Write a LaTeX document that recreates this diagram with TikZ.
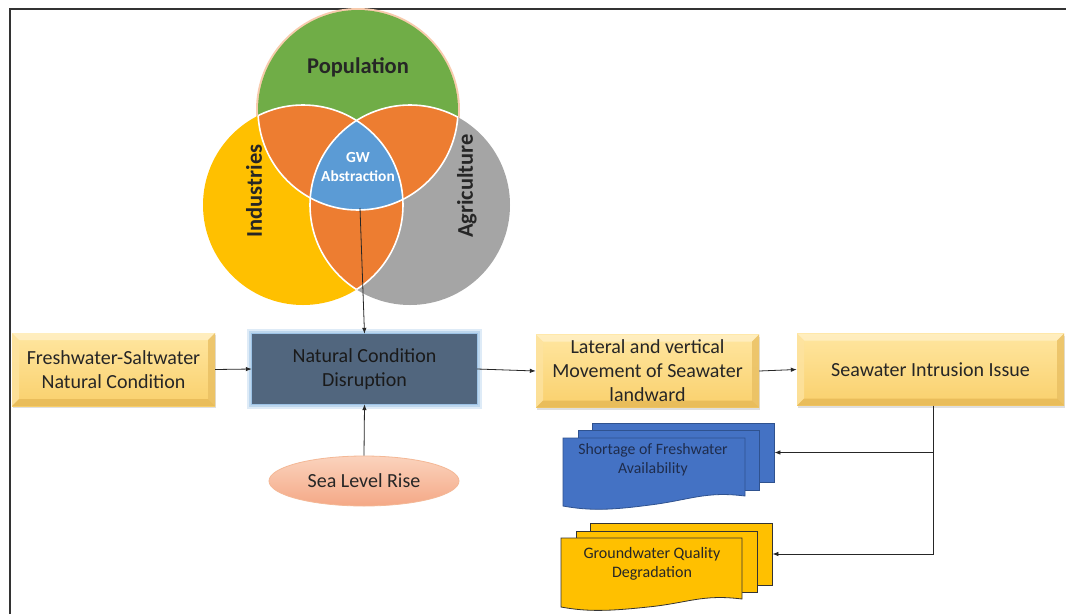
\documentclass[tikz,border=0pt]{standalone}
\usepackage{fontspec}
\setmainfont{Carlito}
\usetikzlibrary{arrows.meta,shadows,shapes.geometric}
\definecolor{popc}{HTML}{70AD47}
\definecolor{popglow}{HTML}{F8CBAD}
\definecolor{indc}{HTML}{FFC000}
\definecolor{agrc}{HTML}{A5A5A5}
\definecolor{ovlc}{HTML}{ED7D31}
\definecolor{gwc}{HTML}{5B9BD5}
\definecolor{txtc}{HTML}{262626}
\definecolor{ncdc}{HTML}{51667E}
\definecolor{ncdtxt}{HTML}{1A1A1A}
\definecolor{glowa}{HTML}{DEEBF7}
\definecolor{glowb}{HTML}{BDD7EE}
\definecolor{glowc}{HTML}{9DC3E6}
\definecolor{bluedoc}{HTML}{4472C4}
\definecolor{bluedocl}{HTML}{2F528F}
\definecolor{bluetxt}{HTML}{1F2D4D}
\definecolor{ydoc}{HTML}{FFC000}
\definecolor{bxtop}{HTML}{FFE6A0}
\definecolor{bxbot}{HTML}{F9D06C}
\definecolor{bvtop}{HTML}{FFF0C6}
\definecolor{bvleft}{HTML}{FDE3A0}
\definecolor{bvright}{HTML}{E9BF62}
\definecolor{bvbot}{HTML}{E5B856}
\definecolor{slrtop}{HTML}{FBD3BD}
\definecolor{slrbot}{HTML}{F4A886}
\definecolor{slrline}{HTML}{F4B896}
\tikzset{
  arr/.style={draw=black!85, line width=0.8pt, -{Latex[length=6pt,width=4.5pt]}},
  bevelbox/.style={rectangle, inner sep=2pt, align=center, text=txtc,
    font=\fontsize{20}{24}\selectfont,
    top color=bxtop, bottom color=bxbot,
    drop shadow={opacity=0.25, shadow xshift=1pt, shadow yshift=-2pt},
    path picture={
      \path (path picture bounding box.north west) coordinate (bNW)
            (path picture bounding box.north east) coordinate (bNE)
            (path picture bounding box.south east) coordinate (bSE)
            (path picture bounding box.south west) coordinate (bSW);
      \fill[bvtop, opacity=0.8] (bNW) -- (bNE) -- ([shift={(-7,7)}]bNE) -- ([shift={(7,7)}]bNW) -- cycle;
      \fill[bvleft, opacity=0.8] (bNW) -- ([shift={(7,7)}]bNW) -- ([shift={(7,-7)}]bSW) -- (bSW) -- cycle;
      \fill[bvright, opacity=0.8] (bNE) -- ([shift={(-7,7)}]bNE) -- ([shift={(-7,-7)}]bSE) -- (bSE) -- cycle;
      \fill[bvbot, opacity=0.8] (bSW) -- ([shift={(7,-7)}]bSW) -- ([shift={(-7,-7)}]bSE) -- (bSE) -- cycle;
    }},
  venntxt/.style={text=txtc, font=\fontsize{22.5}{24}\bfseries\selectfont},
  sheetb/.style={fill=bluedoc, draw=bluedocl, line width=0.8pt},
  sheety/.style={fill=ydoc, draw=black!80, line width=0.8pt},
  vline/.style={draw=white, line width=1.6pt},
}
\begin{document}
\begin{tikzpicture}[x=1pt,y=-1pt]
\useasboundingbox (0,0) rectangle (1066,614);
\fill[white] (0,0) rectangle (1066,614);
% frame
\draw[line width=2pt, black!80] (10,614) -- (10,9) -- (1066,9);

% Venn diagram
\coordinate (P) at (358,110);
\coordinate (I) at (303,205);
\coordinate (A) at (410,205);
\draw[popglow, line width=4pt] (P) circle (100);
\fill[indc] (I) circle (100);
\fill[agrc] (A) circle (100);
\fill[popc] (P) circle (100);
\begin{scope}
  \clip (P) circle (100);
  \fill[ovlc] (I) circle (100);
  \fill[ovlc] (A) circle (100);
\end{scope}
\begin{scope}
  \clip (I) circle (100);
  \fill[ovlc] (A) circle (100);
\end{scope}
\begin{scope}
  \clip (P) circle (100);
  \clip (I) circle (100);
  \fill[gwc] (A) circle (100);
\end{scope}
\begin{scope}
  \clip (I) circle (100) (A) circle (100);
  \draw[vline] (P) circle (100);
\end{scope}
\begin{scope}
  \clip (P) circle (100) (A) circle (100);
  \draw[vline] (I) circle (100);
\end{scope}
\begin{scope}
  \clip (P) circle (100) (I) circle (100);
  \draw[vline] (A) circle (100);
\end{scope}
\node[venntxt] (pop) at (358,67) {Population};
\node[venntxt, rotate=90] (ind) at (254,191) {Industries};
\node[venntxt, rotate=90] (agr) at (467,186) {Agriculture};
\node[text=white, align=center, font=\fontsize{15.4}{19}\bfseries\selectfont] (gw) at (358,167) {GW\\Abstraction};
\coordinate (gwpt) at (360,208);

% main boxes
\node[bevelbox, minimum width=203pt, minimum height=73pt] (fw) at (113.5,369.5) {Freshwater-Saltwater\\Natural Condition};
\node[rectangle, fill=ncdc, minimum width=225pt, minimum height=70pt, align=center,
  text=ncdtxt, font=\fontsize{20}{24}\selectfont,
  preaction={draw=glowa, line width=10pt},
  preaction={draw=glowb, line width=6pt},
  preaction={draw=glowc, line width=2.5pt}] (ncd) at (364.5,369) {Natural Condition\\Disruption};
\node[bevelbox, minimum width=223pt, minimum height=73pt] (lat) at (647.5,371) {Lateral and vertical\\Movement of Seawater\\landward};
\node[bevelbox, minimum width=267pt, minimum height=72pt] (si) at (930.5,369.5) {Seawater Intrusion Issue};
\node[ellipse, minimum width=190pt, minimum height=50pt, inner sep=0pt,
  top color=slrtop, bottom color=slrbot, draw=slrline, line width=0.8pt,
  text=txtc, font=\fontsize{20}{22}\selectfont] (slr) at (364,481) {Sea Level Rise};

% documents - blue
\node[sheetb, minimum width=182pt, minimum height=59pt, inner sep=0pt] (bback) at (683,452.5) {};
\node[sheetb, minimum width=181pt, minimum height=60pt, inner sep=0pt] (bmid) at (668.5,460) {};
\draw[sheetb] (563,438) -- (745,438) -- (745,496)
  .. controls (705,491) and (690,500) .. (650,505)
  .. controls (612,510) and (590,511) .. (563,506) -- cycle;
\node[text=bluetxt, align=center, font=\fontsize{15.8}{19}\selectfont] (btxt) at (653,460) {Shortage of Freshwater\\Availability};

% documents - yellow
\node[sheety, minimum width=182pt, minimum height=62pt, inner sep=0pt] (yback) at (681,554) {};
\node[sheety, minimum width=181pt, minimum height=61pt, inner sep=0pt] (ymid) at (666.5,561.5) {};
\draw[sheety] (561,538) -- (742,538) -- (742,599)
  .. controls (702,594) and (688,603) .. (648,607)
  .. controls (610,611) and (588,612) .. (561,607) -- cycle;
\node[text=txtc, align=center, font=\fontsize{16}{19}\selectfont] (ytxt) at (652,564) {Groundwater Quality\\Degradation};

% connectors
\coordinate (jn) at (933,0);
\draw[arr] (gwpt) -- (ncd.north);
\draw[arr] (fw.east) -- (ncd.west);
\draw[arr] (slr.north) -- (ncd.south);
\draw[arr] (ncd.east) -- (lat.west);
\draw[arr] (lat.east) -- (si.west);
\draw[arr] (si.south -| jn) |- (bback.east);
\draw[arr] (si.south -| jn) |- (yback.east);
\end{tikzpicture}
\end{document}
